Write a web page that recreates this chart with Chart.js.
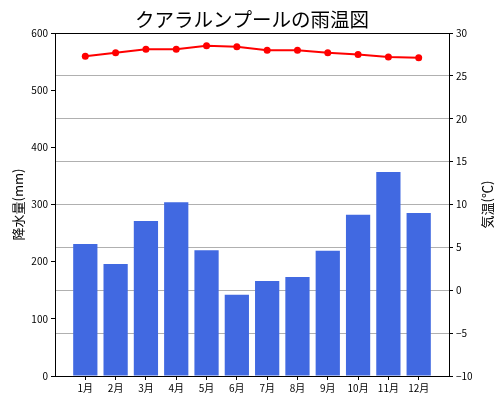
<!DOCTYPE html>
<html>
<head>
<meta charset="utf-8">
<script src="https://cdn.jsdelivr.net/npm/chart.js@4"></script>
<style>
  body { margin: 0; background: #fff; }
</style>
</head>
<body>
<canvas id="myChart" width="504" height="403"></canvas>
<script>
var months = ["1月","2月","3月","4月","5月","6月","7月","8月","9月","10月","11月","12月"];
var rain = [231,196,271,304,220,142,166,173,219,282,357,285];
var temp = [27.3,27.7,28.1,28.1,28.5,28.4,28.0,28.0,27.7,27.5,27.2,27.1];

var jp = "'Noto Sans CJK JP', 'Noto Sans', sans-serif";
var tempTitle = "気温(℃)";

// top spine + right axis title reading bottom to top (like the reference)
var frame = {
  id: "frame",
  afterDatasetsDraw: function (chart) {
    var a = chart.chartArea;
    var ctx = chart.ctx;
    ctx.save();
    ctx.strokeStyle = "#000";
    ctx.lineWidth = 1;
    ctx.beginPath();
    ctx.moveTo(a.left, a.top + 0.5);
    ctx.lineTo(a.right, a.top + 0.5);
    ctx.stroke();
    ctx.restore();
  },
  afterDraw: function (chart) {
    var a = chart.chartArea;
    var ctx = chart.ctx;
    ctx.save();
    ctx.translate(chart.width - 17, (a.top + a.bottom) / 2);
    ctx.rotate(-Math.PI / 2);
    ctx.fillStyle = "#000";
    ctx.font = "13px " + jp;
    ctx.textAlign = "center";
    ctx.textBaseline = "middle";
    ctx.fillText(tempTitle, 0, 0);
    ctx.restore();
  }
};

new Chart("myChart", {
  data: {
    datasets: [{
      type: "line",
      yAxisID: "y1",
      order: 0,
      data: temp.map(function (t, i) { return {x: i, y: t}; }),
      borderColor: "#ff0000",
      backgroundColor: "#ff0000",
      borderWidth: 2,
      pointRadius: 3.5,
      pointBorderWidth: 0,
      tension: 0
    }, {
      type: "bar",
      yAxisID: "y",
      order: 1,
      data: rain.map(function (r, i) { return {x: i, y: r}; }),
      backgroundColor: "#4169e1",
      borderWidth: 0,
      barPercentage: 0.8,
      categoryPercentage: 1.0
    }]
  },
  options: {
    responsive: false,
    animation: false,
    devicePixelRatio: 1,
    layout: { padding: 0 },
    plugins: {
      legend: { display: false },
      tooltip: { enabled: false },
      title: {
        display: true,
        text: "クアラルンプールの雨温図",
        color: "#000",
        font: { family: jp, size: 19.5, weight: "normal", lineHeight: 1.2 },
        padding: { top: 8, bottom: 1.6 }
      }
    },
    scales: {
      x: {
        type: "linear",
        offset: false,
        min: -1,
        max: 12,
        afterBuildTicks: function (s) {
          s.ticks = months.map(function (m, i) { return {value: i}; });
        },
        afterFit: function (s) { s.height = 27; },
        ticks: {
          color: "#000",
          font: { family: jp, size: 10 },
          padding: 2,
          maxRotation: 0,
          autoSkip: false,
          callback: function (v) { return months[v]; }
        },
        grid: { offset: false, drawOnChartArea: false, tickLength: 4, tickColor: "#000" },
        border: { color: "#000", width: 1 }
      },
      y: {
        position: "left",
        min: 0,
        max: 600,
        afterFit: function (s) { s.width = 55; },
        ticks: {
          stepSize: 100,
          color: "#000",
          font: { family: jp, size: 10 },
          padding: 3
        },
        grid: { drawOnChartArea: false, tickLength: 4, tickColor: "#000" },
        border: { color: "#000", width: 1 },
        title: {
          display: true,
          text: "降水量(mm)",
          color: "#000",
          font: { family: jp, size: 13 },
          padding: { top: 10, bottom: 0 }
        }
      },
      y1: {
        position: "right",
        min: -10,
        max: 30,
        afterFit: function (s) { s.width = 55; },
        ticks: {
          stepSize: 5,
          color: "#000",
          font: { family: jp, size: 10 },
          padding: 3,
          callback: function (v) { return v < 0 ? "\u2212" + Math.abs(v) : v; }
        },
        grid: { drawOnChartArea: true, color: "#b0b0b0", lineWidth: 1, tickLength: 4, tickColor: "#000" },
        border: { color: "#000", width: 1 }
      }
    }
  },
  plugins: [frame]
});
</script>
</body>
</html>
